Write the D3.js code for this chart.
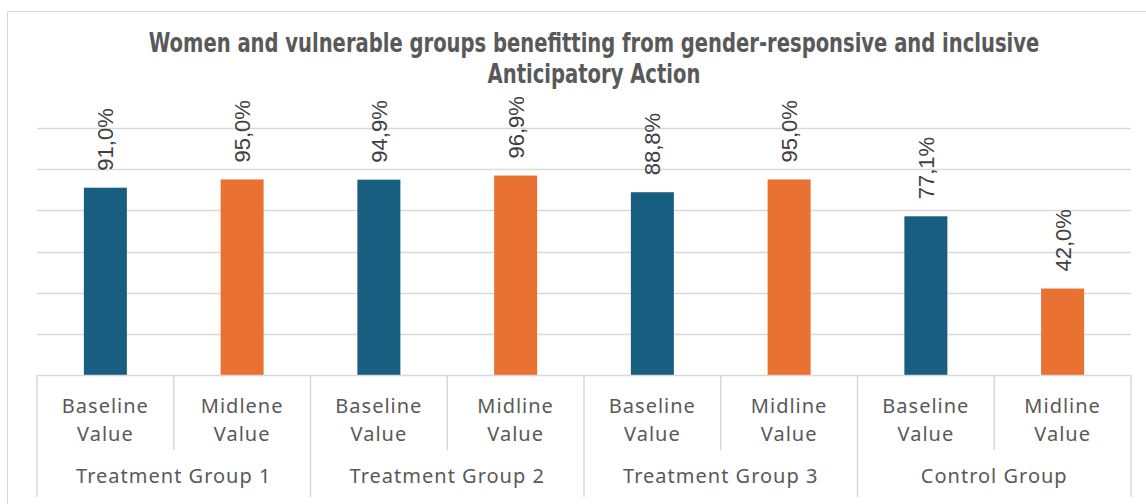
<!DOCTYPE html>
<html>
<head>
<meta charset="utf-8">
<script src="https://cdn.jsdelivr.net/npm/d3@7"></script>
<style>
  body { margin: 0; background: #fff; }
  svg { display: block; }
</style>
</head>
<body>
<div id="chart"></div>
<script>
const width = 1146;
const height = 504;

// data
const groups = ["Treatment Group 1", "Treatment Group 2", "Treatment Group 3", "Control Group"];
const itemLabels = [
    ["Baseline", "Value"], ["Midlene", "Value"],
    ["Baseline", "Value"], ["Midline", "Value"],
    ["Baseline", "Value"], ["Midline", "Value"],
    ["Baseline", "Value"], ["Midline", "Value"]
];
const values = [91.0, 95.0, 94.9, 96.9, 88.8, 95.0, 77.1, 42.0];
const yTicks = [0, 20, 40, 60, 80, 100, 120];
const colors = ["#175e81", "#e97132"];
const titleLines = [
    "Women and vulnerable groups benefitting from gender-responsive and inclusive",
    "Anticipatory Action"
];

const svg = d3.select("#chart")
    .append("svg")
    .attr("width", width)
    .attr("height", height);

// chart frame
svg.append("path")
    .attr("d", `M7.5,${height} V11.5 H${width}`)
    .attr("fill", "none")
    .attr("stroke", "#d9d9d9");

const plot = { left: 37, right: 1131, top: 128, bottom: 375 };

const x = d3.scaleBand()
    .domain(d3.range(values.length))
    .range([plot.left, plot.right])
    .paddingInner(0)
    .paddingOuter(0);

const y = d3.scaleLinear()
    .domain([0, 120])
    .range([plot.bottom, plot.top]);

// gridlines
svg.append("g")
    .selectAll("line")
    .data(yTicks.slice(1))
    .enter().append("line")
    .attr("x1", plot.left)
    .attr("x2", plot.right)
    .attr("y1", d => Math.round(y(d)) + 0.5)
    .attr("y2", d => Math.round(y(d)) + 0.5)
    .attr("stroke", "#d9d9d9")
    .attr("stroke-width", 1.5);

// title - no condensed bold font installed, so squeeze DejaVu bold horizontally
const titleG = svg.append("g");
const t1 = titleG.append("text")
    .attr("text-anchor", "middle")
    .attr("fill", "#595959")
    .style("font-family", "'DejaVu Sans', sans-serif")
    .style("font-weight", "bold")
    .style("font-size", "26px")
    .text(titleLines[0]);
const sx = Math.min(1, 891 / t1.node().getComputedTextLength());
t1.attr("transform", `translate(594,52) scale(${sx},1)`);

titleG.append("text")
    .attr("text-anchor", "middle")
    .attr("fill", "#595959")
    .style("font-family", "'DejaVu Sans', sans-serif")
    .style("font-weight", "bold")
    .style("font-size", "26px")
    .attr("transform", `translate(594,83) scale(${sx},1)`)
    .text(titleLines[1]);

// bars
const bw = 43;
svg.append("g")
    .selectAll("rect")
    .data(values)
    .enter().append("rect")
    .attr("x", (d, i) => x(i) + x.bandwidth() / 2 - bw / 2)
    .attr("y", d => y(d))
    .attr("width", bw)
    .attr("height", d => y(0) - y(d))
    .attr("fill", (d, i) => colors[i % 2]);

// data labels, rotated
svg.append("g")
    .selectAll("text")
    .data(values)
    .enter().append("text")
    .attr("transform", (d, i) => `translate(${x(i) + x.bandwidth() / 2},${y(d) - 17}) rotate(-90)`)
    .attr("dy", "0.36em")
    .attr("text-anchor", "start")
    .attr("fill", "#404040")
    .style("font-family", "'Liberation Sans', Arial, sans-serif")
    .style("font-size", "22px")
    .text(d => d.toFixed(1).replace(".", ",") + "%");

// category axis
const axis = svg.append("g")
    .attr("stroke", "#d9d9d9")
    .attr("stroke-width", 1.5);

axis.append("line")
    .attr("x1", plot.left).attr("x2", plot.right)
    .attr("y1", plot.bottom + 0.5).attr("y2", plot.bottom + 0.5);

// item dividers (short) and group dividers (long)
d3.range(values.length + 1).forEach(i => {
    const xx = i < values.length ? x(i) : plot.right;
    const isGroup = i % 2 === 0;
    axis.append("line")
        .attr("x1", xx).attr("x2", xx)
        .attr("y1", plot.bottom)
        .attr("y2", isGroup ? 497 : 450);
});

const labelFont = "'Noto Sans', 'Open Sans', sans-serif";

svg.append("g")
    .selectAll("text")
    .data(itemLabels)
    .enter().append("text")
    .attr("text-anchor", "middle")
    .attr("fill", "#595959")
    .style("font-family", labelFont)
    .style("font-size", "20px")
    .style("letter-spacing", "1px")
    .each(function (d, i) {
        const t = d3.select(this);
        d.forEach((line, k) => {
            t.append("tspan")
                .attr("x", x(i) + x.bandwidth() / 2)
                .attr("y", 413 + k * 28)
                .text(line);
        });
    });

svg.append("g")
    .selectAll("text")
    .data(groups)
    .enter().append("text")
    .attr("x", (d, i) => x(i * 2) + x.bandwidth())
    .attr("y", 483)
    .attr("text-anchor", "middle")
    .attr("fill", "#595959")
    .style("font-family", labelFont)
    .style("font-size", "20px")
    .style("letter-spacing", "1px")
    .text(d => d);
</script>
</body>
</html>
